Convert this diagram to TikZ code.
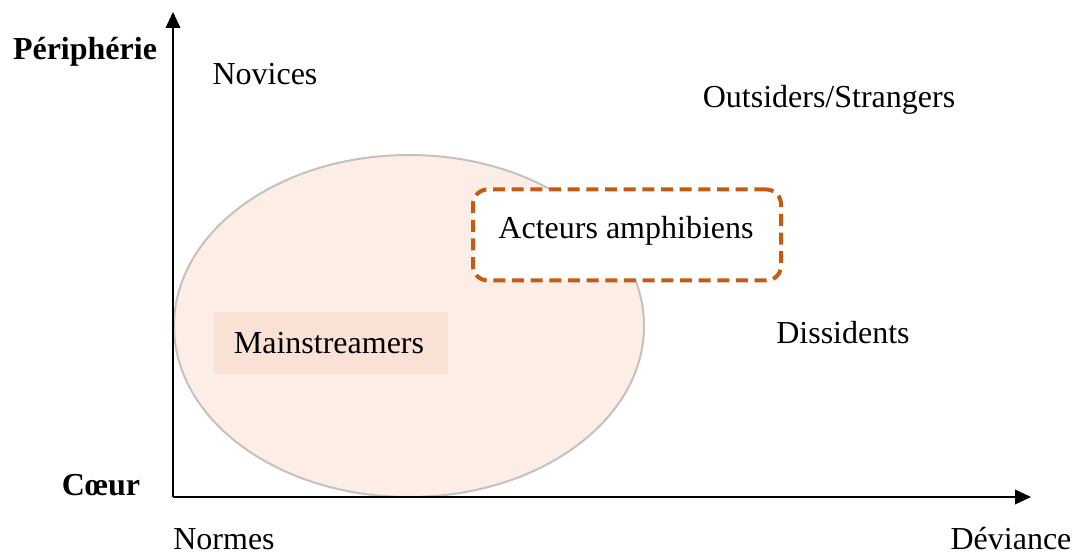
\documentclass[tikz,border=0pt]{standalone}
\usepackage{fontspec}
\setmainfont{Liberation Serif}
\usetikzlibrary{arrows.meta,shapes.geometric}
\definecolor{ellfill}{HTML}{FCEEE6}
\definecolor{elldraw}{HTML}{C8C0BC}
\definecolor{mainfill}{HTML}{F9E2D5}
\definecolor{amphi}{HTML}{C55A11}
\tikzset{
  lbl/.style={font=\fontsize{24}{28}\selectfont, inner sep=0pt},
  blbl/.style={font=\fontsize{24}{28}\selectfont\bfseries, inner sep=0pt},
  axis/.style={line width=1.1pt, -{Triangle[length=12pt,width=11pt]}},
}
\begin{document}
\begin{tikzpicture}[x=0.75pt,y=-0.75pt]
\useasboundingbox (0,0) rectangle (1075,555);
% ellipse
\node[draw=elldraw, fill=ellfill, line width=1.5pt, ellipse, minimum width=470*0.75pt, minimum height=342*0.75pt, inner sep=0pt] (ell) at (409,326) {};
% mainstreamers
\node[fill=mainfill, minimum width=234*0.75pt, minimum height=62*0.75pt, inner sep=0pt] (mainbox) at (331,343) {};
\node[lbl] (main) at (329,343) {Mainstreamers};
% acteurs amphibiens
\node[draw=amphi, fill=white, line width=3pt, dash pattern=on 9pt off 5pt, rounded corners=11pt, minimum width=308*0.75pt, minimum height=91*0.75pt, inner sep=0pt] (amphbox) at (627,235) {};
\node[lbl] (amph) at (626,231) {Acteurs amphibiens};
% axes
\coordinate (o) at (173,497);
\coordinate (ytip) at (173,12);
\coordinate (xtip) at (1031,497);
\draw[axis] (o) -- (ytip);
\draw[axis] (o) -- (xtip);
% labels
\node[blbl] (peri) at (85,52) {Périphérie};
\node[blbl] (coeur) at (101,485) {Cœur};
\node[lbl] (nov) at (265,74) {Novices};
\node[lbl] (out) at (829,100) {Outsiders/Strangers};
\node[lbl] (diss) at (843,333) {Dissidents};
\node[lbl] (norm) at (224,539) {Normes};
\node[lbl] (dev) at (1011,539) {Déviance};
\end{tikzpicture}
\end{document}
